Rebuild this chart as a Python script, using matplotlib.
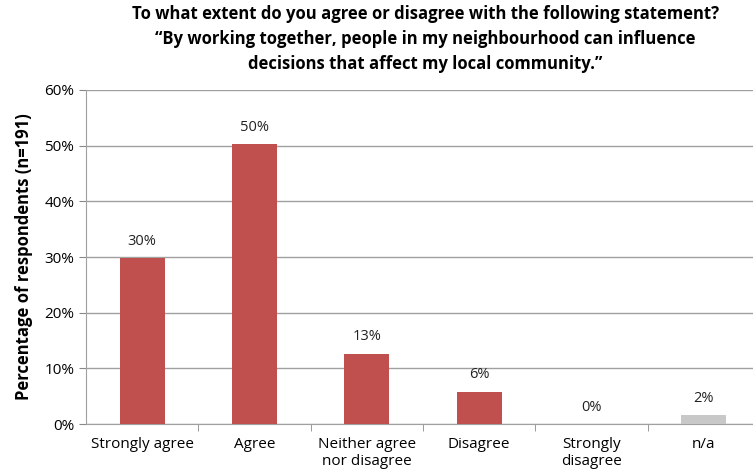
import matplotlib
matplotlib.use("Agg")
import matplotlib.pyplot as plt
from matplotlib.ticker import FuncFormatter

categories = ["Strongly agree", "Agree", "Neither agree\nnor disagree", "Disagree", "Strongly\ndisagree", "n/a"]
values = [29.8, 50.3, 12.6, 5.8, 0.0, 1.6]
labels = ["30%", "50%", "13%", "6%", "0%", "2%"]
colors = ["#C0504D", "#C0504D", "#C0504D", "#C0504D", "#C0504D", "#C8C8C8"]

plt.rcParams['font.family'] = ['Open Sans', 'DejaVu Sans']

fig = plt.figure(figsize=(7.53, 4.76), dpi=100)
ax = fig.add_axes([86 / 753, 0.109, 674 / 753, 0.702])

x = list(range(len(categories)))
ax.bar(x, values, width=0.4, color=colors, zorder=3)
for xi, v, lab in zip(x, values, labels):
    ax.text(xi, v + 1.7, lab, ha='center', va='bottom', fontsize=10.5, color='#222222')

ax.set_xlim(-0.5, len(categories) - 0.5)
ax.set_ylim(0, 60)
ax.set_yticks(range(0, 61, 10))
ax.yaxis.set_major_formatter(FuncFormatter(lambda v, p: f"{int(v)}%"))
ax.yaxis.grid(True, color='#A0A0A0', linewidth=1, zorder=0)
ax.set_axisbelow(True)

ax.set_xticks(x)
ax.set_xticklabels(categories, fontsize=11, linespacing=1.25)
ax.set_xticks([i + 0.5 for i in range(len(categories) - 1)], minor=True)
ax.tick_params(axis='x', which='major', length=0, pad=9)
ax.tick_params(axis='x', which='minor', length=5, color='#888888')
ax.tick_params(axis='y', length=5, color='#888888', labelsize=11)

for s in ['top', 'right']:
    ax.spines[s].set_visible(False)
ax.spines['left'].set_color('#A0A0A0')
ax.spines['bottom'].set_color('#A0A0A0')

ax.set_ylabel("Percentage of respondents (n=191)", fontsize=12, fontweight='bold', labelpad=8)

fig.text(0.565, 0.99, "To what extent do you agree or disagree with the following statement?\n\u201cBy working together, people in my neighbourhood can influence\ndecisions that affect my local community.\u201d",
         ha='center', va='top', fontsize=12, fontweight='bold', linespacing=1.5)

fig.savefig("out.png", dpi=100)
